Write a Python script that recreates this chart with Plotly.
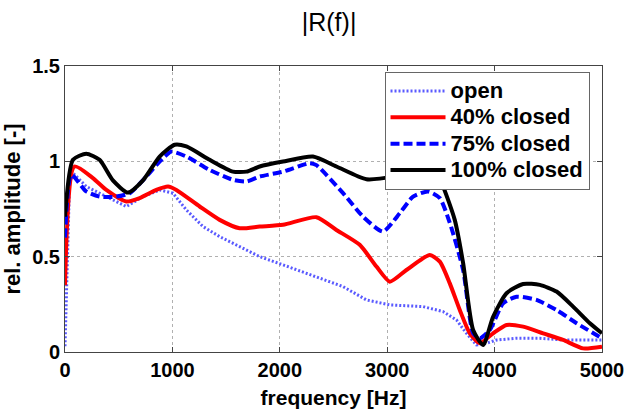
import plotly.graph_objects as go

# Frequency (Hz) and relative amplitude |R(f)| for each valve state
freq_open = [0, 43, 90, 198, 385, 571, 726, 881, 1005, 1130, 1285, 1440, 1626, 1813,
             2030, 2341, 2589, 2807, 3024, 3334, 3520, 3645, 3738, 3831, 3924, 4018,
             4204, 4421, 4638, 4824, 5000]
amp_open = [0.03, 0.90, 0.93, 0.868, 0.815, 0.763, 0.815, 0.85, 0.833, 0.745, 0.658,
            0.605, 0.553, 0.50, 0.457, 0.395, 0.343, 0.273, 0.247, 0.238, 0.212, 0.168,
            0.098, 0.037, 0.046, 0.063, 0.072, 0.072, 0.063, 0.063, 0.063]

freq_40 = [0, 89, 260, 385, 571, 695, 850, 959, 1037, 1254, 1440, 1626, 1813, 2030,
           2341, 2527, 2744, 2900, 3024, 3179, 3396, 3490, 3583, 3676, 3769, 3862,
           3986, 4111, 4266, 4452, 4638, 4824, 5000]
amp_40 = [0.35, 0.973, 0.912, 0.85, 0.789, 0.807, 0.85, 0.868, 0.85, 0.763, 0.693,
          0.649, 0.658, 0.667, 0.707, 0.64, 0.562, 0.448, 0.369, 0.43, 0.509, 0.474,
          0.36, 0.22, 0.098, 0.046, 0.098, 0.142, 0.133, 0.098, 0.063, 0.019, 0.028]

freq_75 = [0, 59, 198, 322, 478, 602, 757, 881, 990, 1130, 1347, 1564, 1689, 1813,
           2030, 2279, 2341, 2589, 2775, 2961, 3117, 3241, 3381, 3490, 3583, 3707,
           3800, 3862, 3955, 4079, 4204, 4390, 4577, 4763, 5000]
amp_75 = [0.60, 0.929, 0.842, 0.815, 0.815, 0.833, 0.92, 0.999, 1.051, 1.025, 0.955,
          0.903, 0.894, 0.92, 0.946, 0.99, 0.98, 0.833, 0.71, 0.632, 0.728, 0.815,
          0.842, 0.807, 0.677, 0.43, 0.098, 0.072, 0.115, 0.255, 0.29, 0.273, 0.22,
          0.151, 0.072]

freq_100 = [0, 74, 198, 322, 446, 586, 726, 881, 1021, 1130, 1347, 1564, 1689, 1813,
            2030, 2309, 2527, 2807, 3054, 3303, 3427, 3520, 3629, 3707, 3800, 3893,
            3986, 4111, 4266, 4421, 4577, 4731, 4887, 5000]
amp_100 = [0.71, 1.008, 1.04, 1.008, 0.90, 0.836, 0.90, 1.025, 1.087, 1.078, 1.008,
           0.946, 0.946, 0.973, 0.999, 1.025, 0.973, 0.906, 0.92, 0.964, 0.973, 0.868,
           0.693, 0.466, 0.115, 0.037, 0.185, 0.308, 0.357, 0.352, 0.317, 0.238,
           0.151, 0.098]

series_names = ["open", "40% closed", "75% closed", "100% closed"]

x_ticks = [0, 1000, 2000, 3000, 4000, 5000]
y_ticks = [0, 0.5, 1, 1.5]
y_tick_text = ["0", "0.5", "1", "1.5"]


def legend_label(text):
    # larger glyphs than the legend row pitch would normally allow
    return f"<span style='font-size:22px'>{text}</span>"


fig = go.Figure()
fig.add_trace(go.Scatter(x=freq_open, y=amp_open, mode="lines",
                         name=legend_label(series_names[0]),
                         line=dict(color="#5a5aff", width=3, dash="2px,2px")))
fig.add_trace(go.Scatter(x=freq_40, y=amp_40, mode="lines",
                         name=legend_label(series_names[1]),
                         line=dict(color="#ff0000", width=4, shape="spline", smoothing=0.6)))
fig.add_trace(go.Scatter(x=freq_75, y=amp_75, mode="lines",
                         name=legend_label(series_names[2]),
                         line=dict(color="#0000ff", width=4, dash="9px,4px",
                                   shape="spline", smoothing=0.6)))
fig.add_trace(go.Scatter(x=freq_100, y=amp_100, mode="lines",
                         name=legend_label(series_names[3]),
                         line=dict(color="#000000", width=4, shape="spline", smoothing=0.6)))

tick_font = dict(family="Liberation Sans, Arial, sans-serif", size=20, color="#000000",
                 weight="bold")
x_label_font = dict(family="Liberation Sans, Arial, sans-serif",
                    size=21, color="#000000", weight="bold")
y_label_font = dict(family="Liberation Sans, Arial, sans-serif",
                    size=22, color="#000000", weight="bold")

axis_common = dict(
    showline=True, linecolor="#444444", linewidth=1, mirror="ticks",
    ticks="inside", ticklen=5, tickcolor="#444444",
    showgrid=True, gridcolor="#b0b0b0", griddash="dot", gridwidth=1,
    zeroline=False, tickfont=tick_font, automargin=False,
)

fig.update_layout(
    width=628, height=415,
    margin=dict(l=65, r=26, t=66, b=63),
    paper_bgcolor="white", plot_bgcolor="white",
    title=dict(text="|R(f)|", x=0.524, xanchor="center", y=0.947, yanchor="middle",
               font=dict(family="Liberation Sans, Arial, sans-serif",
                         size=25, color="#000000")),
    xaxis=dict(range=[0, 5000], tickvals=x_ticks,
               title=dict(text="frequency [Hz]", font=x_label_font, standoff=10),
               **axis_common),
    yaxis=dict(range=[0, 1.5], tickvals=y_ticks, ticktext=y_tick_text,
               title=dict(text="rel. amplitude [-]", font=y_label_font, standoff=5),
               **axis_common),
    legend=dict(x=0.595, y=0.98, xanchor="left", yanchor="top",
                bgcolor="white", bordercolor="#666666", borderwidth=1,
                font=dict(family="Liberation Sans, Arial, sans-serif", size=18,
                          color="#000000", weight="bold"),
                itemwidth=55, tracegroupgap=0),
    showlegend=True,
)

fig.write_html("out.html")
